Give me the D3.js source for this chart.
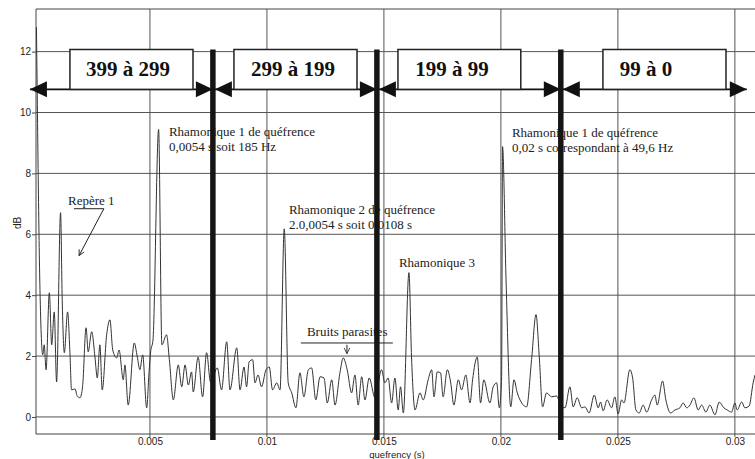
<!DOCTYPE html>
<html>
<head>
<meta charset="utf-8">
<title>Cepstre - quéfrence</title>
<style>
  body { margin: 0; background: #fff; }
  svg { display: block; }
  .axis text { font-family: "Liberation Sans", Arial, sans-serif; font-size: 10px; fill: #222; }
  .axis path { display: none; }
  .axis line { stroke: #444; }
  .note { font-family: "Liberation Serif", "Times New Roman", serif; font-size: 13px; fill: #222; }
  .band { font-family: "Liberation Serif", "Times New Roman", serif; font-size: 21px; font-weight: bold; fill: #111; }
</style>
<script src="https://d3js.org/d3.v7.min.js"></script>
</head>
<body>
<script>
var quefrency = [0.00015,0.00030,0.00042,0.00048,0.00056,0.00070,0.00080,0.00091,0.00101,0.00118,
  0.00125,0.00134,0.00148,0.00158,0.00165,0.00180,0.00189,0.00201,0.00212,0.00227,
  0.00236,0.00251,0.00265,0.00275,0.00286,0.00296,0.00315,0.00329,0.00341,0.00358,
  0.00368,0.00386,0.00393,0.00407,0.00433,0.00446,0.00457,0.00469,0.00486,0.00496,
  0.00503,0.00513,0.00537,0.00551,0.00571,0.00583,0.00600,0.00621,0.00636,0.00650,
  0.00664,0.00678,0.00685,0.00706,0.00725,0.00742,0.00759,0.00788,0.00806,0.00828,
  0.00842,0.00871,0.00885,0.00902,0.00913,0.00924,0.00939,0.00949,0.00962,0.00977,
  0.00996,0.01010,0.01024,0.01042,0.01056,0.01074,0.01091,0.01106,0.01124,0.01141,
  0.01158,0.01177,0.01191,0.01209,0.01227,0.01244,0.01258,0.01277,0.01291,0.01312,
  0.01326,0.01343,0.01362,0.01376,0.01390,0.01405,0.01419,0.01437,0.01462,0.01490,
  0.01504,0.01518,0.01533,0.01547,0.01561,0.01571,0.01583,0.01607,0.01618,0.01633,
  0.01654,0.01668,0.01689,0.01704,0.01714,0.01728,0.01742,0.01753,0.01771,0.01785,
  0.01799,0.01818,0.01832,0.01850,0.01868,0.01879,0.01899,0.01913,0.01927,0.01953,
  0.01967,0.01982,0.01993,0.02003,0.02007,0.02022,0.02042,0.02056,0.02070,0.02089,
  0.02110,0.02131,0.02150,0.02164,0.02178,0.02195,0.02217,0.02238,0.02252,0.02274,
  0.02295,0.02309,0.02326,0.02345,0.02359,0.02377,0.02399,0.02416,0.02426,0.02437,
  0.02454,0.02473,0.02487,0.02501,0.02516,0.02526,0.02551,0.02563,0.02577,0.02591,
  0.02608,0.02623,0.02644,0.02658,0.02668,0.02691,0.02705,0.02725,0.02744,0.02765,
  0.02779,0.02794,0.02808,0.02825,0.02843,0.02858,0.02876,0.02893,0.02915,0.02933,
  0.02953,0.02967,0.02986,0.03000,0.03010,0.03029,0.03043,0.03061,0.03078,0.03086];
var dB = [12.8,4.18,2.04,2.37,1.55,4.08,2.37,3.45,1.15,6.71,
  3.85,2.11,3.45,2.11,0.89,0.92,0.69,0.63,0.99,2.93,
  2.14,2.80,1.97,1.28,2.37,0.89,2.70,3.19,2.20,1.94,
  2.20,1.22,1.71,0.39,2.43,1.97,1.55,2.04,0.30,1.45,
  2.14,2.53,9.44,2.37,2.70,1.88,0.56,1.71,0.99,1.71,
  1.05,1.48,0.82,1.97,0.66,2.11,1.15,1.61,0.89,2.47,
  0.89,2.27,0.89,1.64,0.99,1.81,1.88,1.12,1.38,0.99,
  1.55,1.64,0.89,1.12,0.89,6.18,1.12,0.79,0.30,1.45,
  0.66,1.55,1.61,0.56,1.32,1.28,0.46,1.22,0.39,1.45,
  1.94,1.55,0.79,1.38,0.39,1.32,0.56,1.28,0.63,1.55,
  1.12,1.28,0.46,1.28,0.23,0.99,0.13,4.74,1.97,0.23,
  0.79,0.56,1.22,1.55,0.66,1.48,1.45,0.66,1.55,1.15,
  0.39,1.22,0.89,1.38,0.46,1.22,1.97,0.46,1.22,0.46,
  0.99,1.12,0.30,1.28,8.88,4.50,0.33,1.22,0.79,0.46,
  0.33,1.88,3.36,1.97,0.33,0.79,0.66,0.69,0.46,0.30,
  0.99,0.33,0.63,0.30,0.33,0.13,0.72,0.30,0.49,0.20,
  0.56,0.30,0.66,0.10,0.56,0.46,1.55,1.28,0.23,0.13,
  0.39,0.16,0.56,0.72,0.39,1.18,0.56,0.13,0.23,0.30,
  0.46,0.30,0.39,0.63,0.23,0.39,0.16,0.39,0.07,0.49,
  0.30,0.23,0.16,0.46,0.23,0.49,0.30,0.36,1.12,1.38];

var xTicks = [0.005, 0.01, 0.015, 0.02, 0.025, 0.03];
var xTickLabels = ["0.005", "0.01", "0.015", "0.02", "0.025", "0.03"];
var yTicks = [0, 2, 4, 6, 8, 10, 12];

// frequency bands (Hz) separated by thick bars
var bandLabels = ["399 à 299", "299 à 199", "199 à 99", "99 à 0"];
var bandBoxStart = [0.00158, 0.00859, 0.01560, 0.02436];
var bandBoxEnd = [0.00684, 0.01385, 0.02085, 0.02962];
var bandTextAt = [0.00406, 0.01111, 0.01791, 0.02620];
var bandEdges = [-0.00013, 0.00769, 0.01470, 0.02256, 0.03051];

var width = 755, height = 459;
var svg = d3.select("body").append("svg")
    .attr("width", width)
    .attr("height", height);

var x = d3.scaleLinear().domain([0.00013, 0.03086]).range([36, 755]);
var y = d3.scaleLinear().domain([-0.56, 13.4]).range([434, 9]);

var defs = svg.append("defs");
defs.append("clipPath").attr("id", "plot")
  .append("rect").attr("x", 36).attr("y", 0).attr("width", 719).attr("height", 434);
defs.append("marker").attr("id", "head")
    .attr("viewBox", "0 0 10 10").attr("refX", 9).attr("refY", 5)
    .attr("markerWidth", 7).attr("markerHeight", 7).attr("orient", "auto")
  .append("path").attr("d", "M1,1 L9,5 L1,9")
    .attr("fill", "none").attr("stroke", "#222").attr("stroke-width", 1.2);

// grid
var grid = svg.append("g");
grid.selectAll(".vg").data(xTicks).enter().append("line")
    .attr("x1", d => x(d)).attr("x2", d => x(d))
    .attr("y1", y.range()[1]).attr("y2", y.range()[0] + 3)
    .attr("stroke", "#555").attr("stroke-width", 1);
grid.selectAll(".hg").data(yTicks).enter().append("line")
    .attr("x1", 36).attr("x2", 755)
    .attr("y1", d => y(d)).attr("y2", d => y(d))
    .attr("stroke", "#555").attr("stroke-width", 1);
// frame
grid.append("path")
    .attr("d", "M755," + y.range()[1] + "H36V434H755")
    .attr("fill", "none").attr("stroke", "#444").attr("stroke-width", 1);

// axes
svg.append("g").attr("class", "axis")
    .attr("transform", "translate(36,0)")
    .call(d3.axisLeft(y).tickValues(yTicks).tickSize(4).tickPadding(1));
svg.append("g").attr("class", "axis")
    .attr("transform", "translate(0,434)")
    .call(d3.axisBottom(x).tickValues(xTicks).tickSize(0).tickPadding(4)
      .tickFormat((d, i) => xTickLabels[i]));

svg.append("text")
    .attr("transform", "translate(21,223) rotate(-90)")
    .attr("text-anchor", "middle")
    .style("font-family", "'Liberation Sans', Arial, sans-serif")
    .style("font-size", "10px").attr("fill", "#222")
    .text("dB");
svg.append("text")
    .attr("x", 397).attr("y", 458)
    .attr("text-anchor", "middle")
    .style("font-family", "'Liberation Sans', Arial, sans-serif")
    .style("font-size", "9.5px").attr("fill", "#222")
    .text("quefrency (s)");

// cepstrum curve
var pts = quefrency.map((q, i) => [q, dB[i]]);
svg.append("path")
    .datum(pts)
    .attr("clip-path", "url(#plot)")
    .attr("fill", "none")
    .attr("stroke", "#333")
    .attr("stroke-width", 1)
    .attr("d", d3.line().curve(d3.curveMonotoneX).x(d => x(d[0])).y(d => y(d[1])));

// annotations
var notes = [
  {q: 0.00581, v: 9.24, lines: ["Rhamonique 1 de quéfrence", "0,0054 s soit 185 Hz"]},
  {q: 0.01094, v: 6.68, lines: ["Rhamonique 2 de quéfrence", "2.0,0054 s soit 0,0108 s"]},
  {q: 0.01564, v: 4.93, lines: ["Rhamonique 3"]},
  {q: 0.02047, v: 9.18, lines: ["Rhamonique 1 de quéfrence", "0,02 s correspondant à 49,6 Hz"]},
  {q: 0.00150, v: 6.97, lines: ["Repère 1"]},
  {q: 0.01171, v: 2.66, lines: ["Bruits parasites"]}
];
var nt = svg.append("g").selectAll("text").data(notes).enter().append("text")
    .attr("class", "note")
    .attr("x", d => x(d.q)).attr("y", d => y(d.v));
nt.selectAll("tspan").data(d => d.lines.map(l => ({l: l, q: d.q}))).enter().append("tspan")
    .attr("x", d => x(d.q))
    .attr("dy", (d, i) => i ? 15 : 0)
    .text(d => d.l);

// Repère 1 underline + arrow
svg.append("line")
    .attr("x1", x(0.00175)).attr("x2", x(0.00303))
    .attr("y1", y(6.84)).attr("y2", y(6.84))
    .attr("stroke", "#222").attr("stroke-width", 1);
svg.append("line")
    .attr("x1", x(0.00303)).attr("y1", y(6.84))
    .attr("x2", x(0.00197)).attr("y2", y(5.30))
    .attr("stroke", "#222").attr("stroke-width", 1)
    .attr("marker-end", "url(#head)");
// Bruits parasites underline + arrow
svg.append("line")
    .attr("x1", x(0.01145)).attr("x2", x(0.01538))
    .attr("y1", y(2.43)).attr("y2", y(2.43))
    .attr("stroke", "#222").attr("stroke-width", 1);
svg.append("line")
    .attr("x1", x(0.01342)).attr("y1", y(2.37))
    .attr("x2", x(0.01342)).attr("y2", y(2.08))
    .attr("stroke", "#222").attr("stroke-width", 1)
    .attr("marker-end", "url(#head)");

// band boxes and double arrows
var bandTop = 12.07, bandArrow = 10.76;
var bands = svg.append("g");
bands.append("line")
    .attr("x1", x(bandEdges[0])).attr("x2", x(bandEdges[4]))
    .attr("y1", y(bandArrow)).attr("y2", y(bandArrow))
    .attr("stroke", "#111").attr("stroke-width", 1.6);
bands.selectAll("rect").data(bandLabels).enter().append("rect")
    .attr("x", (d, i) => x(bandBoxStart[i]))
    .attr("y", y(bandTop))
    .attr("width", (d, i) => x(bandBoxEnd[i]) - x(bandBoxStart[i]))
    .attr("height", y(bandArrow) - y(bandTop))
    .attr("fill", "#fff").attr("stroke", "#222").attr("stroke-width", 1.5);
bands.selectAll(".band").data(bandLabels).enter().append("text")
    .attr("class", "band")
    .attr("x", (d, i) => x(bandTextAt[i]))
    .attr("y", y(bandArrow) - 13)
    .attr("text-anchor", "middle")
    .text(d => d);

// arrow heads: every edge gets heads pointing at it from both sides
var heads = [];
bandEdges.forEach(function(e, i) {
  if (i > 0) heads.push({q: e, dir: 1});
  if (i < bandEdges.length - 1) heads.push({q: e, dir: -1});
});
var ya = y(bandArrow);
bands.selectAll(".head").data(heads).enter().append("path")
    .attr("d", function(d) {
      var tip = x(d.q) + (d.dir === -1 && d.q > 0 ? 2 : 0);
      var base = tip - d.dir * 17;
      return "M" + tip + "," + ya + "L" + base + "," + (ya - 8) + "L" + base + "," + (ya + 8) + "Z";
    })
    .attr("fill", "#111");

// thick separators
bands.selectAll(".sep").data(bandEdges.slice(1, 4)).enter().append("line")
    .attr("x1", d => x(d)).attr("x2", d => x(d))
    .attr("y1", y(bandTop)).attr("y2", y.range()[0] + 6)
    .attr("stroke", "#151515").attr("stroke-width", 5.5);
</script>
</body>
</html>
